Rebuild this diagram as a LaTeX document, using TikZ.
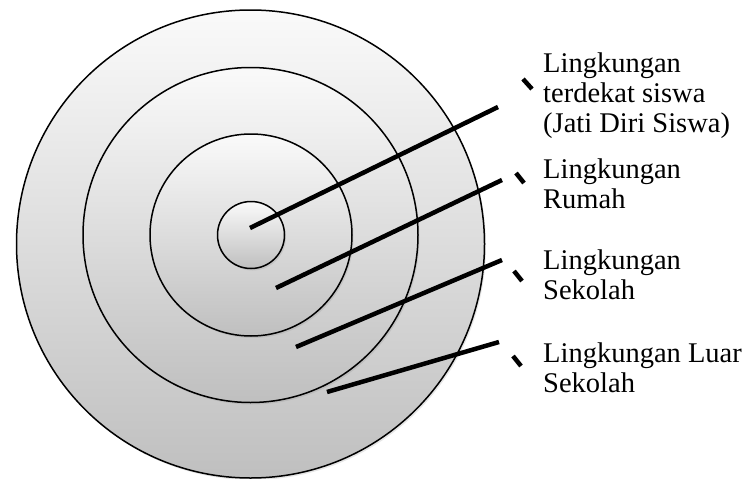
\documentclass[tikz,border=0pt]{standalone}
\usepackage{fontspec}
\setmainfont{Liberation Serif}
\usetikzlibrary{shadows}

\begin{document}
\begin{tikzpicture}[x=1pt, y=-1pt,
        ring/.style={circle, draw, line width=1.5pt, inner sep=0pt,
            top color=black!2, bottom color=black!25,
            drop shadow={shadow xshift=1.5pt, shadow yshift=-2pt, opacity=0.2}},
        pointer/.style={line width=4.5pt},
        tickmark/.style={line width=4.5pt},
        ringtext/.style={anchor=base west, align=left, inner sep=0pt,
            font=\fontsize{28.5}{30}\selectfont}]
      \useasboundingbox (0,0) rectangle (750,479);
      \node[ring, minimum size=468pt] (outer) at (250.5,244) {};
      \node[ring, minimum size=335pt] (school) at (250.5,235) {};
      \node[ring, minimum size=202pt] (home) at (251,235) {};
      \node[ring, minimum size=67pt] (self) at (251,235) {};
      \node[ringtext] (self txt) at (543,132) {Lingkungan\\terdekat siswa\\(Jati Diri Siswa)};
      \node[ringtext] (home txt) at (543,208) {Lingkungan\\Rumah};
      \node[ringtext] (school txt) at (543,299) {Lingkungan\\Sekolah};
      \node[ringtext] (outer txt) at (543,392) {Lingkungan Luar\\Sekolah};
      \coordinate (self in) at (250,228);   \coordinate (self out) at (498,107);
      \coordinate (home in) at (276,288);   \coordinate (home out) at (502,180);
      \coordinate (school in) at (296,347); \coordinate (school out) at (502,260);
      \coordinate (outer in) at (327,392);  \coordinate (outer out) at (499,342);
      \draw[pointer] (self in) -- (self out);
      \draw[pointer] (home in) -- (home out);
      \draw[pointer] (school in) -- (school out);
      \draw[pointer] (outer in) -- (outer out);
      \draw[tickmark] (523,79) -- (532,89);
      \draw[tickmark] (516,173) -- (524,183);
      \draw[tickmark] (514,271) -- (522,281);
      \draw[tickmark] (513,356) -- (521,366);
\end{tikzpicture}
\end{document}
